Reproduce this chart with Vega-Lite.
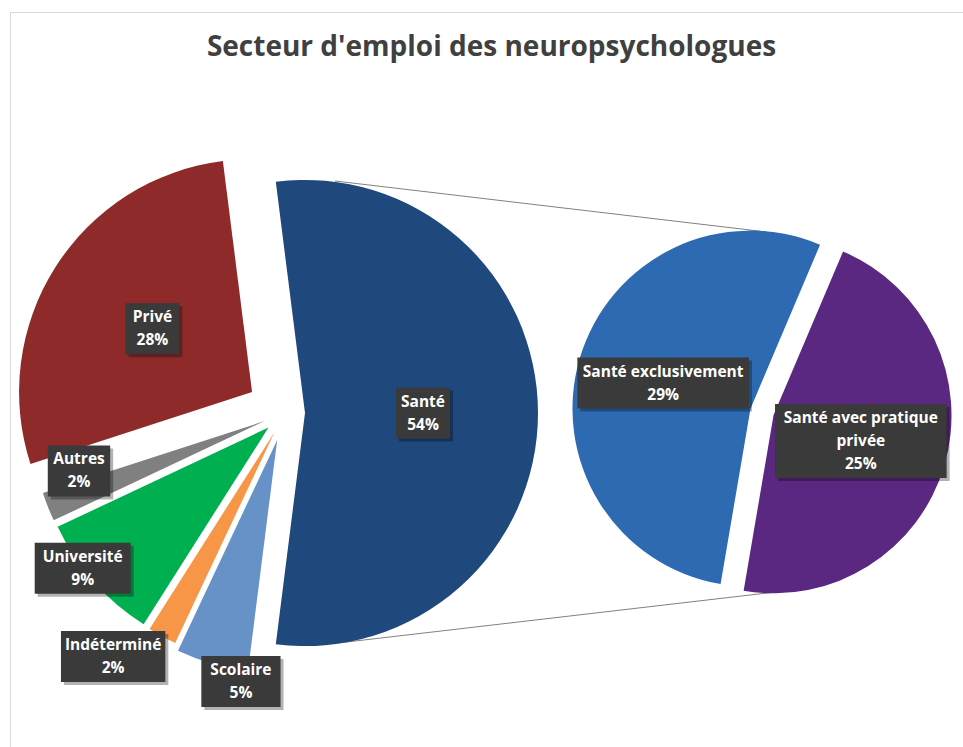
{
  "$schema": "https://vega.github.io/schema/vega-lite/v6.json",
  "width": 953,
  "height": 735,
  "autosize": {"type": "none"},
  "padding": {"left": 10, "top": 12, "right": 0, "bottom": 0},
  "background": "white",
  "view": {"stroke": "#d9d9d9", "strokeWidth": 1, "fill": "white"},
  "title": {"text": "Secteur d'emploi des neuropsychologues", "font": "Open Sans", "fontSize": 28, "fontWeight": "bold", "color": "#404040", "anchor": "middle", "frame": "group", "offset": -72, "baseline": "alphabetic", "dx": 5},
  "params": [
    {"name": "cx1", "value": 275},
    {"name": "cy1", "value": 401},
    {"name": "cx2", "value": 752},
    {"name": "cy2", "value": 400}
  ],
  "datasets": {
    "main": [
      {"sector": "Santé", "value": 54},
      {"sector": "Scolaire", "value": 5},
      {"sector": "Indéterminé", "value": 2},
      {"sector": "Université", "value": 9},
      {"sector": "Autres", "value": 2},
      {"sector": "Privé", "value": 28}
    ],
    "sub": [
      {"sector": "Santé avec pratique privée", "value": 25},
      {"sector": "Santé exclusivement", "value": 29}
    ]
  },
  "resolve": {"scale": {"theta": "independent"}},
  "layer": [
    {
      "data": {"values": [{}]},
      "mark": {"type": "rule", "color": "#808080", "strokeWidth": 1},
      "encoding": {
        "x": {"value": {"expr": "cx1+50"}},
        "y": {"value": {"expr": "cy1-232"}},
        "x2": {"value": {"expr": "cx2+5"}},
        "y2": {"value": {"expr": "cy2-180"}}
      }
    },
    {
      "data": {"values": [{}]},
      "mark": {"type": "rule", "color": "#808080", "strokeWidth": 1},
      "encoding": {
        "x": {"value": {"expr": "cx1+53"}},
        "y": {"value": {"expr": "cy1+230"}},
        "x2": {"value": {"expr": "cx2+31"}},
        "y2": {"value": {"expr": "cy2+178"}}
      }
    },
    {
      "data": {"name": "main"},
      "transform": [
        {"window": [{"op": "row_number", "as": "i"}]},
        {"stack": "value", "groupby": [], "sort": [{"field": "i", "order": "ascending"}], "as": ["v0", "v1"]}
      ],
      "layer": [
        {
          "mark": {"type": "arc", "radius": 233, "stroke": null,
            "x": {"expr": "cx1+(datum.sector==='Privé'?39:datum.sector==='Santé'?20:datum.sector==='Scolaire'?28:22)*sin(-0.12566+(datum.v0+datum.v1)/100*PI)"},
            "y": {"expr": "cy1-(datum.sector==='Privé'?39:datum.sector==='Santé'?20:datum.sector==='Scolaire'?28:22)*cos(-0.12566+(datum.v0+datum.v1)/100*PI)"}},
          "encoding": {
            "theta": {"field": "v0", "type": "quantitative", "scale": {"domain": [0, 100], "range": [-0.12566, 6.15752]}},
            "theta2": {"field": "v1"},
            "color": {"field": "sector", "type": "nominal", "legend": null,
              "scale": {"domain": ["Santé", "Scolaire", "Indéterminé", "Université", "Autres", "Privé", "Santé avec pratique privée", "Santé exclusivement"],
                        "range": ["#1F487C", "#6792C8", "#F79646", "#00B050", "#808080", "#8E2B2A", "#5B2881", "#2D6AB2"]}}
          }
        },
        {
          "mark": {"type": "rect", "color": "#000000", "opacity": 0.3,
            "x": {"expr": "3+cx1+(datum.sector==='Santé'?138:datum.sector==='Privé'?157:datum.sector==='Autres'?214:datum.sector==='Université'?255:datum.sector==='Indéterminé'?298:272)*sin(-0.12566+(datum.v0+datum.v1)/100*PI+(datum.sector==='Autres'?0.103:datum.sector==='Université'?0.068:datum.sector==='Indéterminé'?0.112:datum.sector==='Scolaire'?-0.12:0))-(min(length(datum.sector),19)*8.4+12)/2"},
            "x2": {"expr": "3+cx1+(datum.sector==='Santé'?138:datum.sector==='Privé'?157:datum.sector==='Autres'?214:datum.sector==='Université'?255:datum.sector==='Indéterminé'?298:272)*sin(-0.12566+(datum.v0+datum.v1)/100*PI+(datum.sector==='Autres'?0.103:datum.sector==='Université'?0.068:datum.sector==='Indéterminé'?0.112:datum.sector==='Scolaire'?-0.12:0))+(min(length(datum.sector),19)*8.4+12)/2"},
            "y": {"expr": "3+cy1-(datum.sector==='Santé'?138:datum.sector==='Privé'?157:datum.sector==='Autres'?214:datum.sector==='Université'?255:datum.sector==='Indéterminé'?298:272)*cos(-0.12566+(datum.v0+datum.v1)/100*PI+(datum.sector==='Autres'?0.103:datum.sector==='Université'?0.068:datum.sector==='Indéterminé'?0.112:datum.sector==='Scolaire'?-0.12:0))-(length(datum.sector)>20?74:51)/2"},
            "y2": {"expr": "3+cy1-(datum.sector==='Santé'?138:datum.sector==='Privé'?157:datum.sector==='Autres'?214:datum.sector==='Université'?255:datum.sector==='Indéterminé'?298:272)*cos(-0.12566+(datum.v0+datum.v1)/100*PI+(datum.sector==='Autres'?0.103:datum.sector==='Université'?0.068:datum.sector==='Indéterminé'?0.112:datum.sector==='Scolaire'?-0.12:0))+(length(datum.sector)>20?74:51)/2"}},
          "encoding": {}
        },
        {
          "mark": {"type": "rect", "color": "#3A3A3A",
            "x": {"expr": "cx1+(datum.sector==='Santé'?138:datum.sector==='Privé'?157:datum.sector==='Autres'?214:datum.sector==='Université'?255:datum.sector==='Indéterminé'?298:272)*sin(-0.12566+(datum.v0+datum.v1)/100*PI+(datum.sector==='Autres'?0.103:datum.sector==='Université'?0.068:datum.sector==='Indéterminé'?0.112:datum.sector==='Scolaire'?-0.12:0))-(min(length(datum.sector),19)*8.4+12)/2"},
            "x2": {"expr": "cx1+(datum.sector==='Santé'?138:datum.sector==='Privé'?157:datum.sector==='Autres'?214:datum.sector==='Université'?255:datum.sector==='Indéterminé'?298:272)*sin(-0.12566+(datum.v0+datum.v1)/100*PI+(datum.sector==='Autres'?0.103:datum.sector==='Université'?0.068:datum.sector==='Indéterminé'?0.112:datum.sector==='Scolaire'?-0.12:0))+(min(length(datum.sector),19)*8.4+12)/2"},
            "y": {"expr": "cy1-(datum.sector==='Santé'?138:datum.sector==='Privé'?157:datum.sector==='Autres'?214:datum.sector==='Université'?255:datum.sector==='Indéterminé'?298:272)*cos(-0.12566+(datum.v0+datum.v1)/100*PI+(datum.sector==='Autres'?0.103:datum.sector==='Université'?0.068:datum.sector==='Indéterminé'?0.112:datum.sector==='Scolaire'?-0.12:0))-(length(datum.sector)>20?74:51)/2"},
            "y2": {"expr": "cy1-(datum.sector==='Santé'?138:datum.sector==='Privé'?157:datum.sector==='Autres'?214:datum.sector==='Université'?255:datum.sector==='Indéterminé'?298:272)*cos(-0.12566+(datum.v0+datum.v1)/100*PI+(datum.sector==='Autres'?0.103:datum.sector==='Université'?0.068:datum.sector==='Indéterminé'?0.112:datum.sector==='Scolaire'?-0.12:0))+(length(datum.sector)>20?74:51)/2"}},
          "encoding": {}
        },
        {
          "mark": {"type": "text", "font": "Open Sans", "fontSize": 15.5, "fontWeight": "bold", "color": "#FFFFFF", "align": "center", "baseline": "middle", "lineHeight": 23,
            "text": {"expr": "[datum.sector, datum.value + '%']"},
            "dy": {"expr": "-11.5"},
            "x": {"expr": "cx1+(datum.sector==='Santé'?138:datum.sector==='Privé'?157:datum.sector==='Autres'?214:datum.sector==='Université'?255:datum.sector==='Indéterminé'?298:272)*sin(-0.12566+(datum.v0+datum.v1)/100*PI+(datum.sector==='Autres'?0.103:datum.sector==='Université'?0.068:datum.sector==='Indéterminé'?0.112:datum.sector==='Scolaire'?-0.12:0))"},
            "y": {"expr": "cy1-(datum.sector==='Santé'?138:datum.sector==='Privé'?157:datum.sector==='Autres'?214:datum.sector==='Université'?255:datum.sector==='Indéterminé'?298:272)*cos(-0.12566+(datum.v0+datum.v1)/100*PI+(datum.sector==='Autres'?0.103:datum.sector==='Université'?0.068:datum.sector==='Indéterminé'?0.112:datum.sector==='Scolaire'?-0.12:0))"}},
          "encoding": {}
        }
      ]
    },
    {
      "data": {"name": "sub"},
      "transform": [
        {"window": [{"op": "row_number", "as": "i"}]},
        {"stack": "value", "groupby": [], "sort": [{"field": "i", "order": "ascending"}], "as": ["v0", "v1"]}
      ],
      "layer": [
        {
          "mark": {"type": "arc", "radius": 178, "stroke": null,
            "x": {"expr": "cx2+12*sin(0.40143+(datum.v0+datum.v1)/54*PI)"},
            "y": {"expr": "cy2-12*cos(0.40143+(datum.v0+datum.v1)/54*PI)"}},
          "encoding": {
            "theta": {"field": "v0", "type": "quantitative", "scale": {"domain": [0, 54], "range": [0.40143, 6.68462]}},
            "theta2": {"field": "v1"},
            "color": {"field": "sector", "type": "nominal", "legend": null,
              "scale": {"domain": ["Santé", "Scolaire", "Indéterminé", "Université", "Autres", "Privé", "Santé avec pratique privée", "Santé exclusivement"],
                        "range": ["#1F487C", "#6792C8", "#F79646", "#00B050", "#808080", "#8E2B2A", "#5B2881", "#2D6AB2"]}}
          }
        },
        {
          "mark": {"type": "rect", "color": "#000000", "opacity": 0.3,
            "x": {"expr": "3+cx2+103*sin(0.40143+(datum.v0+datum.v1)/54*PI)-(min(length(datum.sector),19)*8.4+12)/2"},
            "x2": {"expr": "3+cx2+103*sin(0.40143+(datum.v0+datum.v1)/54*PI)+(min(length(datum.sector),19)*8.4+12)/2"},
            "y": {"expr": "3+cy2-103*cos(0.40143+(datum.v0+datum.v1)/54*PI)-(length(datum.sector)>20?74:51)/2"},
            "y2": {"expr": "3+cy2-103*cos(0.40143+(datum.v0+datum.v1)/54*PI)+(length(datum.sector)>20?74:51)/2"}},
          "encoding": {}
        },
        {
          "mark": {"type": "rect", "color": "#3A3A3A",
            "x": {"expr": "cx2+103*sin(0.40143+(datum.v0+datum.v1)/54*PI)-(min(length(datum.sector),19)*8.4+12)/2"},
            "x2": {"expr": "cx2+103*sin(0.40143+(datum.v0+datum.v1)/54*PI)+(min(length(datum.sector),19)*8.4+12)/2"},
            "y": {"expr": "cy2-103*cos(0.40143+(datum.v0+datum.v1)/54*PI)-(length(datum.sector)>20?74:51)/2"},
            "y2": {"expr": "cy2-103*cos(0.40143+(datum.v0+datum.v1)/54*PI)+(length(datum.sector)>20?74:51)/2"}},
          "encoding": {}
        },
        {
          "mark": {"type": "text", "font": "Open Sans", "fontSize": 15.5, "fontWeight": "bold", "color": "#FFFFFF", "align": "center", "baseline": "middle", "lineHeight": 23,
            "text": {"expr": "length(datum.sector)>20 ? ['Santé avec pratique', 'privée', datum.value + '%'] : [datum.sector, datum.value + '%']"},
            "dy": {"expr": "length(datum.sector)>20 ? -23 : -11.5"},
            "x": {"expr": "cx2+103*sin(0.40143+(datum.v0+datum.v1)/54*PI)"},
            "y": {"expr": "cy2-103*cos(0.40143+(datum.v0+datum.v1)/54*PI)"}},
          "encoding": {}
        }
      ]
    }
  ]
}
